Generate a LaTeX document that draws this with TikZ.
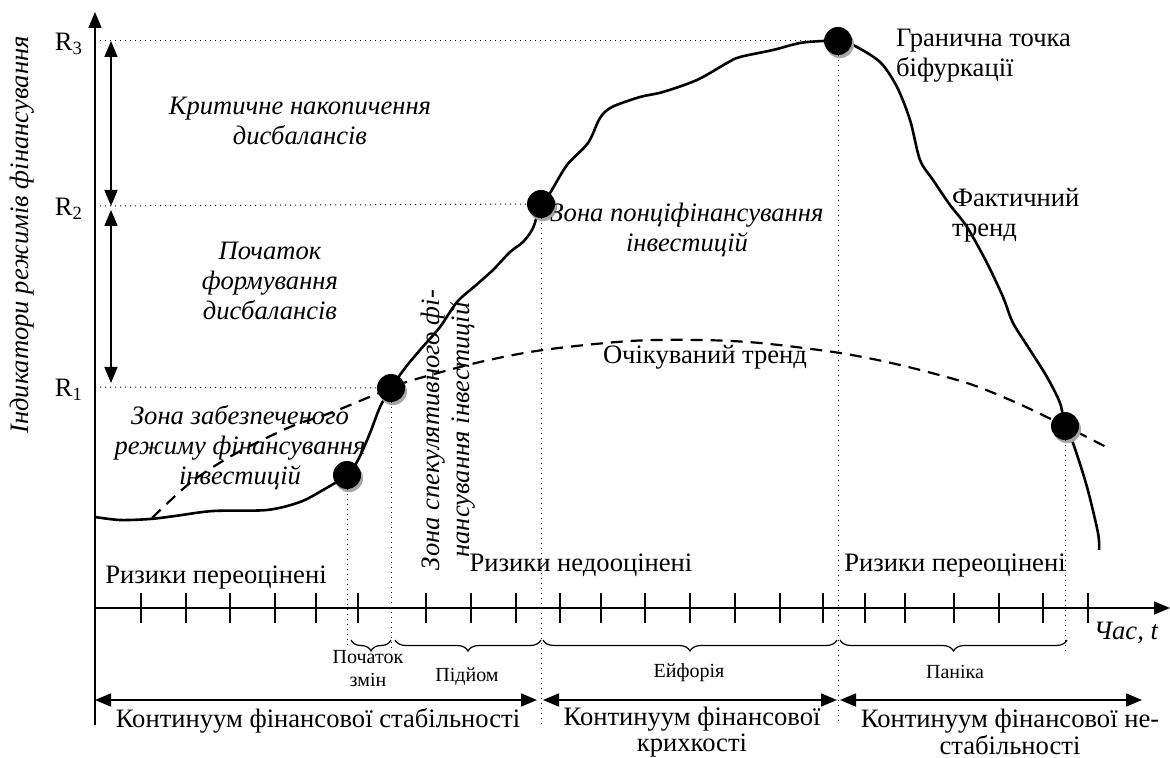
\documentclass[tikz,border=0pt]{standalone}
\usepackage{fontspec}
\setmainfont{Liberation Serif}
\usetikzlibrary{arrows.meta, positioning, shadows, decorations.pathreplacing}
\tikzset{
	every node/.style={
		align=center, font=\fontsize{13.3}{15}\selectfont,
	},
	turn/.style={circle, fill=black, inner sep=0pt, minimum size=14pt,
		drop shadow={shadow xshift=1pt, shadow yshift=-1.6pt, fill=black!35, opacity=1}},
	guide/.style={dotted, line width=0.5pt},
	zone/.style={font=\fontsize{13.3}{15}\selectfont\itshape},
	phase/.style={font=\fontsize{10}{11.5}\selectfont},
	span/.style={font=\fontsize{13.3}{13.2}\selectfont},
	tip/.style={-{Triangle[length=8pt, width=6.5pt]}},
	twoway/.style={{Triangle[length=8pt, width=6.5pt]}-{Triangle[length=8pt, width=6.5pt]}, thick},
	period/.style={decorate, decoration={brace, mirror, amplitude=5.5pt}, semithick},
}

\begin{document}
\begin{tikzpicture}[x=0.5pt, y=-0.5pt]
    \useasboundingbox (0,0) rectangle (1170,758);

    % axes
    \coordinate (o) at (95,725);
    \coordinate (ytop) at (95,12);
    \coordinate (tl) at (95,608);
    \coordinate (tr) at (1170,608);
    \draw[thick, tip] (o) -- (ytop);
    \draw[thick, tip] (tl) -- (tr);
    \foreach \t in {141,186,230,275,316,358,426,471,516,560,601,645,690,735,780,823,865,905,954,999,1043,1088}
        \draw[semithick] (\t,593) -- (\t,623);

    \node[zone, rotate=90] (ylab) at (22,235) {Індикатори режимів фінансування};
    \node[zone, anchor=east] (tlab) at (1165,633) {Час, \textit{t}};

    % levels
    \coordinate (r3) at (95,41);
    \coordinate (r2) at (95,206);
    \coordinate (r1) at (95,387);
    \node[anchor=east] (r3lab) at (90,44) {R\textsubscript{3}};
    \node[anchor=east] (r2lab) at (90,209) {R\textsubscript{2}};
    \node[anchor=east] (r1lab) at (90,390) {R\textsubscript{1}};
    \coordinate (a3) at (111,41);
    \coordinate (a2t) at (111,206);
    \coordinate (a2b) at (111,210);
    \coordinate (a1) at (111,383);
    \draw[twoway] (a2t) -- (a3);
    \draw[twoway] (a1) -- (a2b);

    % key points of the trend
    \coordinate (k1) at (347,475);
    \coordinate (k2) at (391,388);
    \coordinate (k3) at (541,204);
    \coordinate (k4) at (838,41);
    \coordinate (k5) at (1065,426);

    \draw[line width=1.1pt, dash pattern=on 6pt off 4pt] plot[smooth] coordinates {(152,518) (190,483) (233,455) (290,427) (333,412) (k2) (413,380) (480,362) (543,350) (630,341) (700,340) (760,343) (840,353) (900,365) (967,383) (1017,403) (k5) (1110,449)};
    \draw[line width=1.3pt] plot[smooth, tension=0.5] coordinates {(95,517) (120,520) (150,519) (175,516) (213,511) (267,510) (300,502) (323,490) (k1) (358,460) (370,433) (380,407) (k2) (405,368) (420,350) (440,327) (457,302) (475,286) (493,270) (510,252) (523,242) (533,228) (k3) (550,193) (567,165) (588,143) (600,118) (612,107) (640,97) (663,92) (697,80) (727,63) (740,57) (773,50) (800,43) (823,41) (k4) (853,45) (880,62) (897,87) (910,120) (920,160) (933,180) (950,205) (967,227) (987,263) (1003,297) (1013,323) (1030,350) (1047,377) (1060,403) (k5) (1073,443) (1087,487) (1098,533) (1099,550)};

    \node[turn] (p1) at (k1) {};
    \node[turn] (p2) at (k2) {};
    \node[turn] (p3) at (k3) {};
    \node[turn] (p4) at (k4) {};
    \node[turn] (p5) at (k5) {};

    \draw[guide] (r3) -- (p4);
    \draw[guide] (r2) -- (p3);
    \draw[guide] (r1) -- (p2);

    % phases under the time axis
    \coordinate (b1) at (351,640);
    \coordinate (b2) at (391,640);
    \coordinate (b3) at (395,640);
    \coordinate (b4) at (541,640);
    \coordinate (b5) at (543,640);
    \coordinate (b6) at (837,640);
    \coordinate (b7) at (840,640);
    \coordinate (b8) at (1067,640);
    \draw[guide] (p1) -- (p1 |- 0,645);
    \draw[guide] (p2) -- (p2 |- 0,650);
    \draw[guide] (p3) -- (p3 |- 0,725);
    \draw[guide] (p4) -- (p4 |- 0,725);
    \draw[guide] (p5) -- (p5 |- 0,655);
    \draw[period] (b1) -- (b2);
    \draw[period] (b3) -- (b4);
    \draw[period] (b5) -- (b6);
    \draw[period] (b7) -- (b8);
    \node[phase] (start) at (368,669) {Початок\\змін};
    \node[phase] (rise) at (467,677) {Підйом};
    \node[phase] (boom) at (689,673) {Ейфорія};
    \node[phase] (panic) at (955,672) {Паніка};

    % continua
    \coordinate (c0) at (95,700);
    \coordinate (c1) at (537,700);
    \coordinate (c2) at (543,700);
    \coordinate (c3) at (837,700);
    \coordinate (c4) at (840,700);
    \coordinate (c5) at (1142,700);
    \draw[twoway] (c0) -- (c1);
    \draw[twoway] (c2) -- (c3);
    \draw[twoway] (c4) -- (c5);
    \node (stab) at (318,721) {Континуум фінансової стабільності};
    \node[span] (frag) at (692,732) {Континуум фінансової\\крихкості};
    \node[span] (unst) at (1010,732) {Континуум фінансової не-\\стабільності};

    % labels
    \node (over1) at (216,578) {Ризики переоцінені};
    \node (under) at (581,565) {Ризики недооцінені};
    \node (over2) at (955,566) {Ризики переоцінені};
    \node[zone] (crit) at (300,121) {Критичне накопичення\\дисбалансів};
    \node[zone] (begin) at (270,281) {Початок\\формування\\дисбалансів};
    \node[zone] (secured) at (240,448) {Зона забезпеченого\\режиму фінансування\\інвестицій};
    \node[zone, rotate=90] (spec) at (448,430) {Зона спекулятивного фі-\\нансування інвестицій};
    \node[zone] (ponzi) at (687,230) {Зона понціфінансування\\інвестицій};
    \node (expected) at (705,357) {Очікуваний тренд};
    \node[anchor=west, align=left] (bif) at (889,56) {Гранична точка\\біфуркації};
    \node[anchor=west, align=left] (fact) at (945,215) {Фактичний\\тренд};
\end{tikzpicture}
\end{document}
